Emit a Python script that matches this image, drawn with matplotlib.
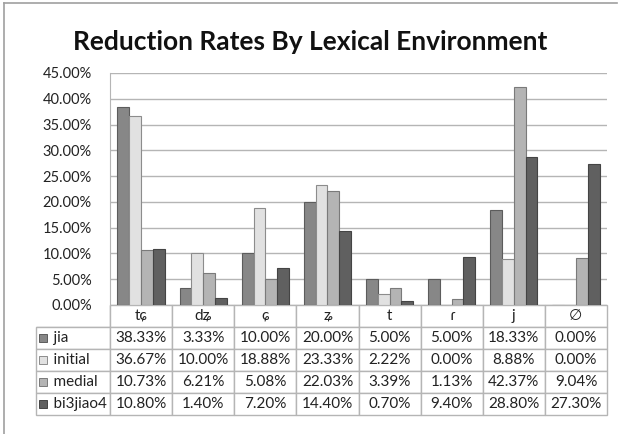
import numpy as np
import matplotlib
matplotlib.use("Agg")
import matplotlib.pyplot as plt
from matplotlib.patches import Rectangle
from matplotlib.lines import Line2D

plt.rcParams["font.family"] = ["Lato", "DejaVu Sans"]

categories = ["tɕ", "dʑ", "ɕ", "ʑ", "t", "ɾ", "j", "∅"]
series = ["jia", "initial", "medial", "bi3jiao4"]
jia = [38.33, 3.33, 10.00, 20.00, 5.00, 5.00, 18.33, 0.00]
initial = [36.67, 10.00, 18.88, 23.33, 2.22, 0.00, 8.88, 0.00]
medial = [10.73, 6.21, 5.08, 22.03, 3.39, 1.13, 42.37, 9.04]
bi3jiao4 = [10.80, 1.40, 7.20, 14.40, 0.70, 9.40, 28.80, 27.30]
yticks = np.arange(0, 50, 5)

values = [jia, initial, medial, bi3jiao4]
fills = ["#878787", "#e1e1e1", "#b4b4b4", "#606060"]
edges = ["#5c5c5c", "#8c8c8c", "#7a7a7a", "#444444"]
grid_c = "#b5b5b5"

W, H = 619, 434
fig = plt.figure(figsize=(W / 100, H / 100), dpi=100)

# chart frame (left and top edges only are in view)
fig.add_artist(Line2D([4 / W, 4 / W], [0, 1 - 3 / H], color="#a0a0a0", lw=1.2))
fig.add_artist(Line2D([4 / W, 617 / W], [1 - 3 / H, 1 - 3 / H], color="#a0a0a0", lw=1.2))

x0, x1, ytop, ybot = 110, 607, 73, 305
ax = fig.add_axes([x0 / W, 1 - ybot / H, (x1 - x0) / W, (ybot - ytop) / H])
ax.set_xlim(0, len(categories))
ax.set_ylim(0, 45)

bw = 0.19
xs = np.arange(len(categories)) + 0.5
for k, (vals, fc, ec) in enumerate(zip(values, fills, edges)):
    ax.bar(xs + (k - 1.5) * bw, vals, width=bw, color=fc, edgecolor=ec,
           linewidth=0.8, zorder=3)

ax.set_yticks(yticks)
ax.set_yticklabels([f"{v:.2f}%" for v in yticks], fontsize=10.5, color="#222222")
ax.yaxis.grid(True, color=grid_c, lw=1.0, zorder=0)
ax.set_xticks([])
ax.tick_params(axis="y", length=0, pad=13)
for s in ["top", "right", "bottom"]:
    ax.spines[s].set_visible(False)
ax.spines["left"].set_color(grid_c)

# data table under the plot
leg_w = (x0 - 36) / (x1 - x0)
col_w = 1 / len(categories)
cell_text = [[""] + categories]
for name, vals in zip(series, values):
    cell_text.append(["    " + name] + [f"{v:.2f}%" for v in vals])
row_h = (415 - ybot) / (ybot - ytop) / 5
tbl = ax.table(cellText=cell_text, colWidths=[leg_w] + [col_w] * len(categories),
               bbox=[-leg_w, -5 * row_h, 1 + leg_w, 5 * row_h], cellLoc="center")
tbl.auto_set_font_size(False)
for (r, c), cell in tbl.get_celld().items():
    cell.set_edgecolor(grid_c)
    cell.set_linewidth(1.0)
    cell.get_text().set_fontsize(11)
    cell.get_text().set_color("#222222")
    if c == 0:
        cell.get_text().set_ha("left")
        cell._loc = "left"
        cell.PAD = 0.03
    if r == 0 and c == 0:
        cell.visible_edges = "BR"

# legend keys in the first table column
for k, (fc, ec) in enumerate(zip(fills, edges)):
    yc = -(k + 1.5) * row_h
    ax.add_patch(Rectangle((-leg_w + 0.006, yc - 0.018), 0.016, 0.036,
                           transform=ax.transAxes, facecolor=fc, edgecolor=ec,
                           lw=0.7, clip_on=False, zorder=5))

fig.text(310 / W, 1 - 42 / H, "Reduction Rates By Lexical Environment",
         ha="center", va="center", fontsize=19, fontweight="bold", color="#111111")

fig.savefig("out.png", dpi=100)
